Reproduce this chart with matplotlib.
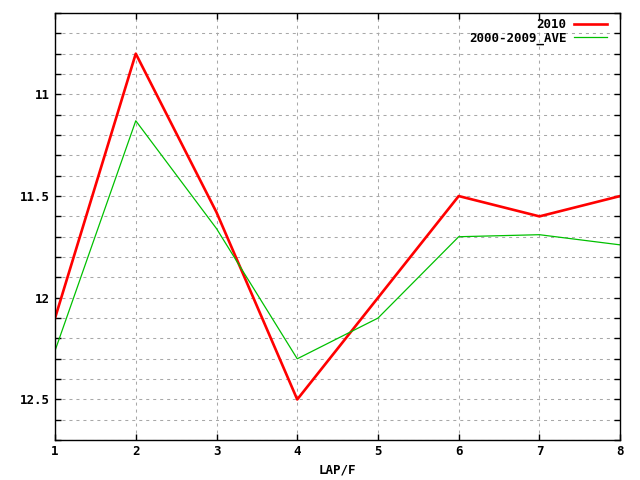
import numpy as np
import matplotlib
matplotlib.use('Agg')
import matplotlib.pyplot as plt
from matplotlib.ticker import MultipleLocator

laps = [1, 2, 3, 4, 5, 6, 7, 8]
y2010 = [12.10, 10.80, 11.58, 12.50, 12.00, 11.50, 11.60, 11.50]
y_ave = [12.26, 11.13, 11.66, 12.30, 12.10, 11.70, 11.69, 11.74]

plt.rcParams['font.family'] = 'DejaVu Sans Mono'
plt.rcParams['font.weight'] = 'bold'
plt.rcParams['font.size'] = 9

fig = plt.figure(figsize=(6.4, 4.8), dpi=100)
ax = fig.add_axes([0.086, 0.083, 0.883, 0.89])

ax.plot(laps, y2010, color='#ff0000', linewidth=1.9, label='2010')
ax.plot(laps, y_ave, color='#00c000', linewidth=0.9, label='2000-2009_AVE')

ax.set_xlim(1, 8)
ax.set_ylim(12.7, 10.6)
ax.xaxis.set_major_locator(MultipleLocator(1))
ax.yaxis.set_major_locator(MultipleLocator(0.5))
ax.yaxis.set_minor_locator(MultipleLocator(0.1))
ax.yaxis.set_major_formatter(matplotlib.ticker.FuncFormatter(lambda v, p: f'{v:g}'))

ax.grid(True, which='both', color='#a8a8a8', linestyle=(0, (2.9, 3.8)), linewidth=0.75)
ax.set_axisbelow(True)
ax.tick_params(which='both', direction='in', top=True, right=True, length=4, width=1)
for s in ax.spines.values():
    s.set_linewidth(1)

ax.set_xlabel('LAP/F', fontweight='bold')
leg = ax.legend(loc='upper right', frameon=False, markerfirst=False,
                handlelength=2.6, handletextpad=0.6, borderaxespad=0.0,
                labelspacing=0.05, bbox_to_anchor=(0.985, 1.0))

fig.savefig('out.png', dpi=100)
